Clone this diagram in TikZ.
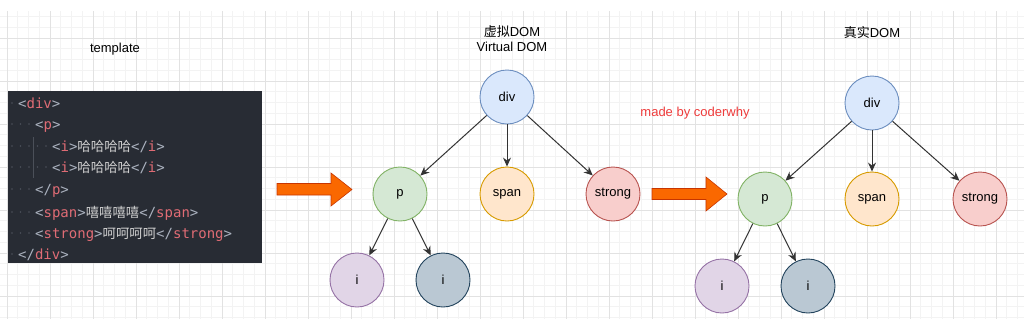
\documentclass[tikz,border=0pt]{standalone}
\usepackage{fontspec}
\setmainfont{Liberation Sans}
\newfontfamily\cjk{Noto Sans CJK SC}
\newfontfamily\codefont{DejaVu Sans Mono}
\usetikzlibrary{arrows.meta}
\definecolor{gridminor}{HTML}{F3F3F3}
\definecolor{gridmajor}{HTML}{E2E2E2}
\definecolor{codebg}{HTML}{282C34}
\definecolor{codegray}{HTML}{ABB2BF}
\definecolor{codetext}{HTML}{CFCFCF}
\definecolor{tagred}{HTML}{E06C75}
\definecolor{dotgray}{HTML}{4B5059}
\definecolor{linegray}{HTML}{333333}
\definecolor{arroworange}{HTML}{FA6800}
\definecolor{arrowedge}{HTML}{C73500}
\definecolor{signred}{HTML}{EE3B3B}
\definecolor{bluefill}{HTML}{DAE8FC}\definecolor{blueline}{HTML}{6C8EBF}
\definecolor{greenfill}{HTML}{D5E8D4}\definecolor{greenline}{HTML}{82B366}
\definecolor{orangefill}{HTML}{FFE6CC}\definecolor{orangeline}{HTML}{D79B00}
\definecolor{redfill}{HTML}{F8CECC}\definecolor{redline}{HTML}{B85450}
\definecolor{purplefill}{HTML}{E1D5E7}\definecolor{purpleline}{HTML}{9673A6}
\definecolor{slatefill}{HTML}{BAC8D3}\definecolor{slateline}{HTML}{23445D}
\newcommand{\tg}[1]{\textcolor{tagred}{#1}}
\newcommand{\zh}[1]{{\cjk\fontsize{13.4}{16}\selectfont\textcolor{codetext}{#1}}}
\begin{document}
\begin{tikzpicture}[x=1pt,y=-1pt,
    dom/.style={circle, draw, line width=0.9pt, minimum size=54pt, inner sep=0pt, font=\fontsize{13}{15}\selectfont},
    link/.style={-{Stealth[length=9pt,width=8pt]}, line width=1pt, draw=linegray},
    codeline/.style={anchor=base west, inner sep=0pt, text=codegray, font=\codefont\fontsize{14}{16}\selectfont},
    bigarrow/.style={fill=arroworange, draw=arrowedge, line width=0.6pt},
    title/.style={align=center, font=\fontsize{13}{15}\selectfont}]
  \useasboundingbox (0,0) rectangle (1024,319);
  \fill[white] (0,0) rectangle (1024,319);
  % grid
  \foreach \k in {0,...,94}
    \draw[gridminor, line width=0.6pt] (7+10.75*\k,11) -- (7+10.75*\k,319);
  \foreach \k in {0,...,28}
    \draw[gridminor, line width=0.6pt] (0,16.5+10.75*\k) -- (1024,16.5+10.75*\k);
  \foreach \k in {0,...,23}
    \draw[gridmajor, line width=0.7pt] (7+43*\k,11) -- (7+43*\k,319);
  \foreach \k in {0,...,6}
    \draw[gridmajor, line width=0.7pt] (0,38+43*\k) -- (1024,38+43*\k);

  % template
  \node[title] (tpl) at (115,49) {template};
  \fill[codebg] (8,91) rectangle (262,263);
  \foreach \y/\n in {103/0,124/2,146/4,167/4,189/2,212/2,233/2,254/0}
    \foreach \k in {0,...,\n}
      \fill[dotgray] (12+8.5*\k,\y) circle (0.9);
  \draw[dotgray, line width=0.6pt] (33,137) -- (33,178);
  \node[codeline] (c1) at (18,108) {<\tg{div}>};
  \node[codeline] (c2) at (35,129) {<\tg{p}>};
  \node[codeline] (c3) at (52,151) {<\tg{i}>\zh{哈哈哈哈}</\tg{i}>};
  \node[codeline] (c4) at (52,172) {<\tg{i}>\zh{哈哈哈哈}</\tg{i}>};
  \node[codeline] (c5) at (35,194) {</\tg{p}>};
  \node[codeline] (c6) at (35,217) {<\tg{span}>\zh{嘻嘻嘻嘻}</\tg{span}>};
  \node[codeline] (c7) at (35,238) {<\tg{strong}>\zh{呵呵呵呵}</\tg{strong}>};
  \node[codeline] (c8) at (18,259) {</\tg{div}>};

  % arrows
  \filldraw[bigarrow] (277,183.5) -- (331,183.5) -- (331,173) -- (352,189.5)
    -- (331,206) -- (331,195) -- (277,195) -- cycle;
  \filldraw[bigarrow] (652,188.5) -- (706,188.5) -- (706,177) -- (727,194)
    -- (706,211) -- (706,199.5) -- (652,199.5) -- cycle;

  % virtual dom
  \node[title] (vtitle) at (512,38.5) {{\cjk 虚拟}DOM\\Virtual DOM};
  \node[dom, fill=bluefill, draw=blueline] (vdiv) at (507,97) {div};
  \node[dom, fill=greenfill, draw=greenline] (vp) at (400,194) {p};
  \node[dom, fill=orangefill, draw=orangeline] (vspan) at (507,194) {span};
  \node[dom, fill=redfill, draw=redline] (vstrong) at (613,194) {strong};
  \node[dom, fill=purplefill, draw=purpleline] (vi1) at (357,280) {i};
  \node[dom, fill=slatefill, draw=slateline] (vi2) at (443,280) {i};
  \draw[link] (vdiv) -- (vp);
  \draw[link] (vdiv) -- (vspan);
  \draw[link] (vdiv) -- (vstrong);
  \draw[link] (vp) -- (vi1);
  \draw[link] (vp) -- (vi2);

  \node[title, text=signred] (sign) at (695,113) {made by coderwhy};

  % real dom
  \node[title] (rtitle) at (872,33) {{\cjk 真实}DOM};
  \node[dom, fill=bluefill, draw=blueline] (rdiv) at (872,103) {div};
  \node[dom, fill=greenfill, draw=greenline] (rp) at (765,199) {p};
  \node[dom, fill=orangefill, draw=orangeline] (rspan) at (872,199) {span};
  \node[dom, fill=redfill, draw=redline] (rstrong) at (980,199) {strong};
  \node[dom, fill=purplefill, draw=purpleline] (ri1) at (722,286) {i};
  \node[dom, fill=slatefill, draw=slateline] (ri2) at (808,286) {i};
  \draw[link] (rdiv) -- (rp);
  \draw[link] (rdiv) -- (rspan);
  \draw[link] (rdiv) -- (rstrong);
  \draw[link] (rp) -- (ri1);
  \draw[link] (rp) -- (ri2);
\end{tikzpicture}
\end{document}
